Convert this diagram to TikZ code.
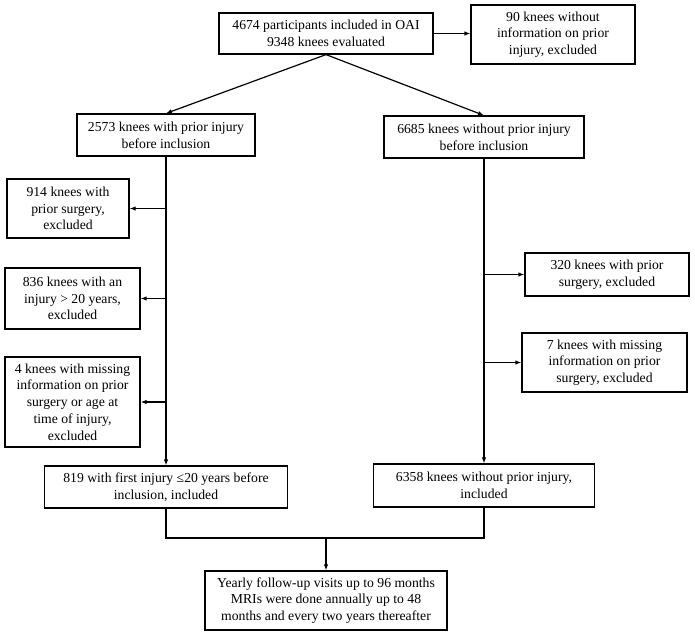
\documentclass[tikz,border=0pt]{standalone}
\usepackage{fontspec}
\setmainfont{Liberation Serif}
\usetikzlibrary{arrows.meta}

\begin{document}
\begin{tikzpicture}[x=1pt, y=-1pt,
    box/.style={draw, line width=1.2pt, fill=white, align=center, inner sep=2pt,
        font=\fontsize{13.7}{16.7}\selectfont},
    arr/.style={-{Latex[length=6pt,width=4.5pt]}, line width=1.2pt},
    ln/.style={line width=1.2pt}]
    \useasboundingbox (0,0) rectangle (695,635);

    % Draw nodes
    \node[box, minimum width=214pt, minimum height=41pt] (top) at (326,33.5) {4674 participants included in OAI\\9348 knees evaluated};
    \node[box, minimum width=164pt, minimum height=59pt] (ex0) at (553,34.5) {90 knees without\\information on prior\\injury, excluded};
    \node[box, minimum width=178pt, minimum height=42pt] (inj) at (166,135) {2573 knees with prior injury\\before inclusion};
    \node[box, minimum width=200pt, minimum height=42pt] (noinj) at (484,137) {6685 knees without prior injury\\before inclusion};
    \node[box, minimum width=122pt, minimum height=59pt] (ex1) at (68,208.5) {914 knees with\\prior surgery,\\excluded};
    \node[box, minimum width=135pt, minimum height=61pt] (ex2) at (72.5,298.5) {836 knees with an\\injury > 20 years,\\excluded};
    \node[box, minimum width=135pt, minimum height=90pt] (ex3) at (72.5,402) {4 knees with missing\\information on prior\\surgery or age at\\time of injury,\\excluded};
    \node[box, minimum width=164pt, minimum height=43pt] (ex4) at (607,274.5) {320 knees with prior\\surgery, excluded};
    \node[box, minimum width=165pt, minimum height=59pt] (ex5) at (604.5,362.5) {7 knees with missing\\information on prior\\surgery, excluded};
    \node[box, minimum width=243pt, minimum height=42pt] (inc1) at (166,487) {819 with first injury ≤20 years before\\inclusion, included};
    \node[box, minimum width=221pt, minimum height=43pt] (inc2) at (484,485.5) {6358 knees without prior injury,\\included};
    \node[box, minimum width=242pt, minimum height=59pt] (fu) at (326,600.5) {Yearly follow-up visits up to 96 months\\MRIs were done annually up to 48\\months and every two years thereafter};
    \coordinate (merge) at (326,538);

    % Draw connections
    \draw[arr] (top.east) -- (ex0.west |- top.east);
    \draw[arr] (top.south) -- (inj.north);
    \draw[arr] (top.south) -- (noinj.north);
    \draw[arr] (inj.south) -- (inc1.north);
    \draw[arr] (noinj.south) -- (inc2.north);
    \draw[arr] (inj.south |- ex1.east) -- (ex1.east);
    \draw[arr] (inj.south |- ex2.east) -- (ex2.east);
    \draw[arr] (inj.south |- ex3.east) -- (ex3.east);
    \draw[arr] (noinj.south |- ex4.west) -- (ex4.west);
    \draw[arr] (noinj.south |- ex5.west) -- (ex5.west);
    \draw[ln] (inc1.south) |- (merge) -| (inc2.south);
    \draw[arr] (merge) -- (fu.north);
\end{tikzpicture}
\end{document}
